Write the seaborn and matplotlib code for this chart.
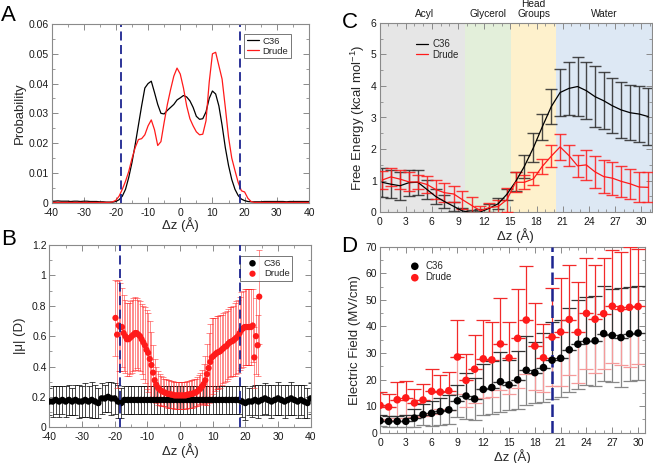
import numpy as np
import pandas as pd
import matplotlib
matplotlib.use("Agg")
import matplotlib.pyplot as plt
import seaborn as sns
from matplotlib.ticker import MultipleLocator, FuncFormatter

# ---------------- Panel A: probability ----------------
a_dz = list(range(-40, 41))
a_c36 = [0.0005, 0.0005, 0.0006, 0.0005, 0.0005, 0.0005, 0.0004, 0.0005, 0.0005, 0.0004,
         0.0005, 0.0005, 0.0004, 0.0004, 0.0004, 0.0003, 0.0003, 0.0002, 0.0002, 0.0002,
         0.0004, 0.0010, 0.0022, 0.0045, 0.0085, 0.0135, 0.0195, 0.0260, 0.0325, 0.0385,
         0.0400, 0.0408, 0.0370, 0.0330, 0.0300, 0.0298, 0.0310, 0.0320, 0.0330, 0.0345,
         0.0352, 0.0360, 0.0355, 0.0342, 0.0320, 0.0290, 0.0280, 0.0282, 0.0305, 0.0350,
         0.0375, 0.0365, 0.0325, 0.0260, 0.0185, 0.0125, 0.0078, 0.0045, 0.0024, 0.0012,
         0.0007, 0.0004, 0.0003, 0.0003, 0.0003, 0.0003, 0.0004, 0.0004, 0.0004, 0.0004,
         0.0004, 0.0004, 0.0004, 0.0003, 0.0004, 0.0004, 0.0004, 0.0004, 0.0004, 0.0004, 0.0004]
a_drude = [0.0001] * 18 + [
         0.0001, 0.0003, 0.0008, 0.0022, 0.0045, 0.0072, 0.0105, 0.0148, 0.0185, 0.0212,
         0.0215, 0.0228, 0.0258, 0.0278, 0.0245, 0.0192, 0.0205, 0.0270, 0.0330, 0.0380,
         0.0425, 0.0452, 0.0432, 0.0385, 0.0325, 0.0282, 0.0258, 0.0238, 0.0228, 0.0230,
         0.0275, 0.0405, 0.0500, 0.0505, 0.0460, 0.0415, 0.0320, 0.0220, 0.0150, 0.0108,
         0.0068, 0.0040, 0.0036, 0.0015, 0.0004] + [0.0001] * 18
boundaries_ab = [-18.5, 18.5]

# ---------------- Panel B: dipole magnitude ----------------
b_dz_c36 = list(range(-40, 41))
b_c36 = [0.17, 0.17, 0.18, 0.17, 0.18, 0.17, 0.18, 0.17, 0.18, 0.17,
         0.17, 0.18, 0.17, 0.18, 0.17, 0.16, 0.19, 0.19, 0.20, 0.19,
         0.19, 0.17, 0.16, 0.18, 0.18, 0.18, 0.18, 0.18, 0.18, 0.18,
         0.18, 0.18, 0.18, 0.18, 0.18, 0.18, 0.18, 0.18, 0.18, 0.18,
         0.18, 0.18, 0.18, 0.18, 0.18, 0.18, 0.18, 0.18, 0.18, 0.18,
         0.18, 0.18, 0.18, 0.18, 0.18, 0.18, 0.18, 0.18, 0.18, 0.17,
         0.16, 0.17, 0.17, 0.18, 0.17, 0.18, 0.19, 0.18, 0.17, 0.18,
         0.19, 0.18, 0.17, 0.18, 0.19, 0.18, 0.17, 0.18, 0.17, 0.16, 0.19]
b_c36_err = [0.09, 0.10, 0.09, 0.10, 0.09, 0.10, 0.10, 0.09, 0.10, 0.11,
             0.10, 0.11, 0.10, 0.12, 0.11, 0.10, 0.10, 0.09, 0.10, 0.11,
             0.10, 0.11, 0.10, 0.09, 0.09, 0.09, 0.09, 0.09, 0.09, 0.09,
             0.09, 0.09, 0.09, 0.09, 0.09, 0.09, 0.09, 0.09, 0.09, 0.09,
             0.09, 0.09, 0.09, 0.09, 0.09, 0.09, 0.09, 0.09, 0.09, 0.09,
             0.09, 0.09, 0.09, 0.09, 0.09, 0.09, 0.09, 0.09, 0.09, 0.10,
             0.11, 0.09, 0.10, 0.10, 0.11, 0.10, 0.10, 0.10, 0.11, 0.10,
             0.11, 0.10, 0.11, 0.10, 0.11, 0.10, 0.11, 0.10, 0.11, 0.10, 0.10]
b_drude = [0.72, 0.61, 0.67, 0.66, 0.66, 0.62, 0.60, 0.58, 0.58, 0.59,
           0.60, 0.61, 0.62, 0.62, 0.61, 0.60, 0.58, 0.56, 0.54, 0.51,
           0.49, 0.45, 0.41, 0.36, 0.31, 0.28, 0.26, 0.25, 0.24, 0.235,
           0.23, 0.225, 0.22, 0.22, 0.215, 0.215, 0.21, 0.21, 0.21, 0.21,
           0.21, 0.21, 0.21, 0.21, 0.215, 0.215, 0.22, 0.22, 0.225, 0.23,
           0.235, 0.245, 0.255, 0.27, 0.285, 0.31, 0.35, 0.39, 0.43, 0.46,
           0.47, 0.48, 0.49, 0.495, 0.50, 0.51, 0.52, 0.53, 0.535, 0.55,
           0.56, 0.565, 0.57, 0.58, 0.59, 0.60, 0.62, 0.64, 0.65, 0.66,
           0.66, 0.66, 0.66, 0.66, 0.67, 0.46, 0.60, 0.54, 0.86]
b_drude_err = [0.25, 0.35, 0.30, 0.29, 0.26, 0.25, 0.24, 0.24, 0.24, 0.24,
               0.24, 0.24, 0.24, 0.23, 0.23, 0.23, 0.23, 0.24, 0.25, 0.26,
               0.26, 0.25, 0.22, 0.18, 0.14, 0.12, 0.11, 0.10, 0.10, 0.095,
               0.09, 0.09, 0.09, 0.09, 0.09, 0.09, 0.09, 0.09, 0.09, 0.09,
               0.09, 0.09, 0.09, 0.09, 0.09, 0.09, 0.09, 0.09, 0.09, 0.09,
               0.095, 0.10, 0.10, 0.11, 0.13, 0.16, 0.20, 0.23, 0.25, 0.26,
               0.25, 0.24, 0.24, 0.24, 0.24, 0.23, 0.23, 0.23, 0.23, 0.23,
               0.23, 0.23, 0.23, 0.24, 0.24, 0.24, 0.24, 0.25, 0.25, 0.25,
               0.25, 0.25, 0.25, 0.25, 0.24, 0.20, 0.25, 0.20, 0.31]
b_dz_drude = list(-19.75 + 0.5 * np.arange(len(b_drude)))

# ---------------- Panel C: free energy ----------------
c_dz = [0.3, 1.3, 2.35, 3.4, 4.4, 5.45, 6.45, 7.45, 8.5, 9.5, 10.55, 11.55, 12.6, 13.6, 14.6,
        15.6, 16.6, 17.65, 18.65, 19.7, 20.7, 21.7, 22.7, 23.7, 24.7, 25.7, 26.7, 27.7, 28.75,
        29.75, 30.8]
c_c36 = [0.95, 0.89, 0.84, 0.94, 0.95, 0.72, 0.50, 0.34, 0.19, 0.04, 0.00, 0.01, 0.13, 0.27,
         0.57, 0.97, 1.45, 2.05, 2.70, 3.35, 3.79, 3.92, 3.98, 3.85, 3.66, 3.53, 3.37, 3.24,
         3.15, 3.11, 3.03]
c_c36_err = [0.46, 0.45, 0.44, 0.41, 0.39, 0.30, 0.24, 0.20, 0.15, 0.10, 0.08, 0.10, 0.13,
             0.17, 0.17, 0.30, 0.37, 0.47, 0.40, 0.55, 0.73, 0.84, 0.92, 0.90, 0.96, 0.90,
             0.87, 0.88, 0.87, 0.88, 0.90]
c_drude = [1.02, 1.12, 1.05, 0.96, 0.96, 0.88, 0.72, 0.62, 0.58, 0.40, 0.22, 0.05, 0.15, 0.18,
           0.40, 0.95, 0.95, 1.06, 1.45, 1.78, 2.07, 1.80, 1.47, 1.50, 1.28, 1.13, 1.08, 0.98,
           0.90, 0.80, 0.79]
c_drude_err = [0.28, 0.28, 0.30, 0.30, 0.22, 0.27, 0.30, 0.30, 0.25, 0.28, 0.25, 0.15, 0.16,
               0.20, 0.38, 0.32, 0.22, 0.20, 0.25, 0.35, 0.42, 0.33, 0.34, 0.47, 0.50, 0.53,
               0.52, 0.50, 0.48, 0.47, 0.47]
regions = ["Acyl", "Glycerol", "Head\nGroups", "Water"]
region_edges = [0, 9.75, 15.1, 20.25, 31.2]
region_colors = ["#e6e6e6", "#e3efda", "#fef1cc", "#dde8f4"]

# ---------------- Panel D: electric field ----------------
d_dz = list(range(0, 31))
d_c36 = [4.5, 4.3, 4.3, 4.3, 5.5, 6.8, 7.3, 8.0, 8.6, 12.0, 13.8, 12.7, 16.3, 17.0, 19.2, 18.0,
         19.9, 23.5, 22.6, 24.5, 27.3, 28.0, 31.2, 33.3, 34.5, 34.6, 37.3, 36.6, 35.8, 37.2, 37.5]
d_c36_err = [2.0, 2.0, 2.0, 2.3, 3.5, 4.0, 4.8, 5.0, 5.5, 6.0, 8.7, 7.8, 9.6, 10.0, 11.3, 9.5,
             11.0, 13.0, 11.5, 13.0, 14.5, 14.5, 15.8, 16.8, 16.5, 17.0, 18.0, 17.5, 18.5, 17.8, 17.8]
d_drude = [10.3, 9.7, 12.4, 13.1, 11.2, 12.3, 15.6, 15.3, 15.8, 28.5, 19.7, 23.9, 27.8, 27.4,
           33.4, 28.2, 35.5, 42.4, 32.6, 28.2, 36.0, 37.9, 42.6, 37.8, 44.9, 42.7, 44.8, 47.6,
           46.7, 47.2, 47.5]
d_drude_err = [5.2, 5.0, 6.8, 6.5, 5.3, 6.2, 8.4, 6.5, 7.2, 14.0, 10.0, 12.8, 14.7, 14.1, 17.3,
               13.5, 18.5, 20.3, 16.4, 12.8, 18.5, 20.4, 20.7, 19.0, 20.9, 20.3, 21.0, 21.3,
               21.2, 22.5, 21.7]
boundary_d = 20

# ---------------- style ----------------
sns.set_theme(style="ticks")
plt.rcParams["font.family"] = ["Liberation Sans", "DejaVu Sans"]
plt.rcParams["mathtext.fontset"] = "custom"
plt.rcParams["mathtext.rm"] = "Liberation Sans"
plt.rcParams["mathtext.it"] = "Liberation Sans:italic"
plt.rcParams["axes.unicode_minus"] = False

NAVY = "#1c2490"
RED = "#ff1a1a"
TICK_FS = 7.5
LAB_FS = 9.5

fig = plt.figure(figsize=(6.53, 4.63), dpi=100)
W, H = 653.0, 463.0


def add_ax(l, t, r, b):
    return fig.add_axes([l / W, 1 - b / H, (r - l) / W, (b - t) / H])


def grace(ax, xmaj, xmin, ymaj, ymin):
    ax.xaxis.set_major_locator(MultipleLocator(xmaj))
    ax.xaxis.set_minor_locator(MultipleLocator(xmin))
    ax.yaxis.set_major_locator(MultipleLocator(ymaj))
    ax.yaxis.set_minor_locator(MultipleLocator(ymin))
    ax.yaxis.set_major_formatter(FuncFormatter(lambda v, p: "%g" % round(v, 6)))
    ax.xaxis.set_major_formatter(FuncFormatter(lambda v, p: "%g" % round(v, 6)))
    ax.tick_params(which="both", direction="in", top=True, right=True,
                   color="#8a8a8a", labelcolor="#1a1a1a", labelsize=TICK_FS)
    ax.tick_params(axis="y", which="both", pad=2)
    ax.tick_params(axis="x", which="both", pad=3.5)
    ax.tick_params(which="major", length=4, width=0.7)
    ax.tick_params(which="minor", length=2, width=0.6)
    for s in ax.spines.values():
        s.set_color("#8a8a8a")
        s.set_linewidth(0.8)


# ---- A ----
axA = add_ax(51.5, 24, 309, 202.7)
dfA = pd.DataFrame({"dz": a_dz, "C36": a_c36, "Drude": a_drude})
sns.lineplot(data=dfA, x="dz", y="C36", ax=axA, color="black", lw=0.9, label="C36")
sns.lineplot(data=dfA, x="dz", y="Drude", ax=axA, color=RED, lw=0.9, label="Drude")
for xb in boundaries_ab:
    axA.axvline(xb, color=NAVY, lw=1.3, ls=(0, (5, 2.5)))
axA.set_xlim(-40, 40)
axA.set_ylim(0, 0.06)
grace(axA, 10, 5, 0.01, 0.005)
axA.set_xlabel("Δz (Å)", fontsize=LAB_FS, labelpad=0)
axA.set_ylabel("Probability", fontsize=LAB_FS, labelpad=2)
legA = axA.legend(loc="upper right", bbox_to_anchor=(0.93, 0.945), fontsize=6.8,
                  handlelength=1.2, handletextpad=0.4, borderpad=0.3, labelspacing=0.1,
                  frameon=True, fancybox=False, borderaxespad=0)
legA.get_frame().set_edgecolor("#555555")
legA.get_frame().set_linewidth(0.7)

# ---- B ----
axB = add_ax(49.3, 245, 310.7, 427.3)
axB.errorbar(b_dz_c36, b_c36, yerr=b_c36_err, fmt="none", ecolor="black", elinewidth=0.5,
             capsize=2.5, capthick=0.5, zorder=2)
axB.errorbar(b_dz_drude, b_drude, yerr=b_drude_err, fmt="none", ecolor=RED, elinewidth=0.5,
             capsize=2.5, capthick=0.5, alpha=0.7, zorder=3)
sns.scatterplot(x=b_dz_c36, y=b_c36, ax=axB, color="black", s=22, edgecolor="none",
                zorder=4, label="C36")
sns.scatterplot(x=b_dz_drude, y=b_drude, ax=axB, color=RED, s=20, edgecolor="none",
                zorder=5, label="Drude")
for xb in boundaries_ab:
    axB.axvline(xb, color=NAVY, lw=1.3, ls=(0, (5, 2.5)), zorder=6)
axB.set_xlim(-40, 40)
axB.set_ylim(0, 1.2)
grace(axB, 10, 5, 0.2, 0.1)
axB.set_xlabel("Δz (Å)", fontsize=LAB_FS, labelpad=1)
axB.set_ylabel("|μ| (D)", fontsize=LAB_FS, labelpad=4)
legB = axB.legend(loc="upper right", bbox_to_anchor=(0.93, 0.94), fontsize=6.8,
                  handletextpad=0.2, borderpad=0.3, labelspacing=0.15, markerscale=1.0,
                  frameon=True, fancybox=False, borderaxespad=0)
legB.get_frame().set_edgecolor("#555555")
legB.get_frame().set_linewidth(0.7)

# ---- C ----
axC = add_ax(379.5, 22.7, 651.7, 212.3)
for i in range(len(regions)):
    axC.axvspan(region_edges[i], region_edges[i + 1], color=region_colors[i], lw=0, zorder=0)
    xc = (region_edges[i] + region_edges[i + 1]) / 2
    yy = 1.07 if "\n" in regions[i] else 1.046
    axC.text(xc + (0.3 if i == 0 else 0), yy, regions[i], transform=axC.get_xaxis_transform(),
             ha="center", va="center", fontsize=7.3, linespacing=1.0, color="#1a1a1a")
axC.errorbar(c_dz, c_c36, yerr=c_c36_err, fmt="none", ecolor="#2a2a2a", elinewidth=1.0,
             capsize=4, capthick=1.0, alpha=0.85, zorder=2)
axC.errorbar(c_dz, c_drude, yerr=c_drude_err, fmt="none", ecolor=RED, elinewidth=1.0,
             capsize=4, capthick=1.0, alpha=0.85, zorder=3)
sns.lineplot(x=c_dz, y=c_c36, ax=axC, color="black", lw=0.9, label="C36", zorder=4)
sns.lineplot(x=c_dz, y=c_drude, ax=axC, color=RED, lw=0.9, label="Drude", zorder=5)
axC.set_xlim(0, 31.2)
axC.set_ylim(0, 6)
grace(axC, 3, 1, 1, 0.5)
axC.set_xlabel("Δz (Å)", fontsize=LAB_FS, labelpad=1)
axC.set_ylabel("Free Energy (kcal mol$^{-1}$)", fontsize=LAB_FS, labelpad=3)
axC.legend(loc="upper left", bbox_to_anchor=(0.12, 0.935), fontsize=7, handlelength=1.2,
           handletextpad=0.5, labelspacing=0.1, frameon=False, borderaxespad=0)

# ---- D ----
axD = add_ax(380, 246.7, 645, 432.7)
zeros = [0] * len(d_dz)
axD.errorbar(d_dz, d_c36, yerr=[d_c36_err, zeros], fmt="none", ecolor="#888888",
             elinewidth=0.9, capsize=5, capthick=0.9, zorder=2)
axD.errorbar(d_dz, d_drude, yerr=[d_drude_err, zeros], fmt="none", ecolor="#f59a9a",
             elinewidth=0.9, capsize=5, capthick=0.9, zorder=2)
axD.errorbar(d_dz, d_c36, yerr=[zeros, d_c36_err], fmt="none", ecolor="#333333",
             elinewidth=0.9, capsize=5, capthick=0.9, zorder=3)
axD.errorbar(d_dz, d_drude, yerr=[zeros, d_drude_err], fmt="none", ecolor="#f22a2a",
             elinewidth=0.9, capsize=5, capthick=0.9, zorder=3)
axD.axvline(boundary_d, color=NAVY, lw=1.8, ls=(0, (5, 1.6)), zorder=4)
sns.scatterplot(x=d_dz, y=d_c36, ax=axD, color="black", s=30, edgecolor="none",
                zorder=5, label="C36")
sns.scatterplot(x=d_dz, y=d_drude, ax=axD, color=RED, s=30, edgecolor="none",
                zorder=6, label="Drude")
axD.set_xlim(0, 30.8)
axD.set_ylim(0, 70)
grace(axD, 3, 1, 10, 5)
axD.set_xlabel("Δz (Å)", fontsize=LAB_FS, labelpad=1)
axD.set_ylabel("Electric Field (MV/cm)", fontsize=LAB_FS, labelpad=3)
axD.legend(loc="upper left", bbox_to_anchor=(0.08, 0.945), fontsize=7,
           handletextpad=0.1, labelspacing=0.15, frameon=False, borderaxespad=0)

# panel letters
for letter, (px, py) in {"A": (8.5, 15.5), "B": (8.5, 239.5), "C": (349.5, 23), "D": (349.5, 246)}.items():
    fig.text(px / W, 1 - py / H, letter, fontsize=16, ha="center", va="center", color="black")

fig.savefig("out.png", dpi=100)
